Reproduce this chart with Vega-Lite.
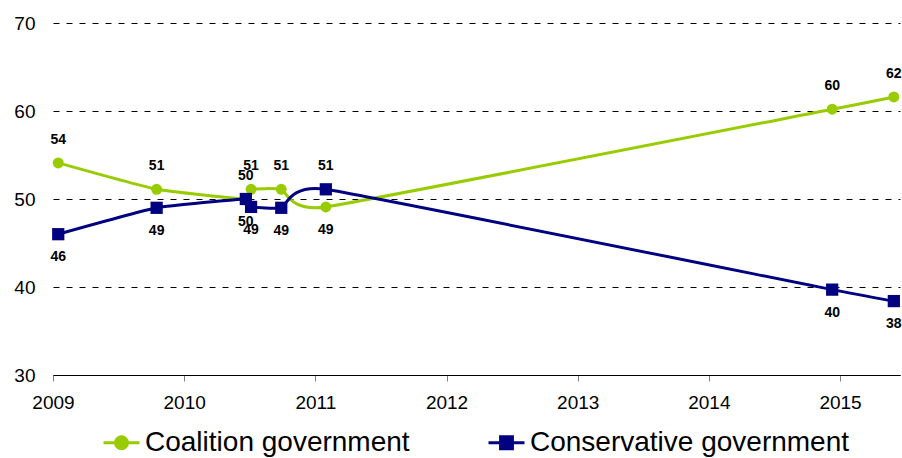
{
  "$schema": "https://vega.github.io/schema/vega-lite/v6.json",
  "width": 847,
  "height": 352,
  "autosize": {"type": "none"},
  "padding": {"left": 53, "top": 23, "right": 2, "bottom": 83},
  "background": "white",
  "config": {
    "view": {"stroke": null},
    "font": "Liberation Sans, Arial, sans-serif"
  },
  "data": {
    "values": [
      {"date": 2009.04, "series": "Coalition government", "value": 54.1},
      {"date": 2009.79, "series": "Coalition government", "value": 51.1},
      {"date": 2010.47, "series": "Coalition government", "value": 50.0},
      {"date": 2010.51, "series": "Coalition government", "value": 51.1},
      {"date": 2010.74, "series": "Coalition government", "value": 51.1},
      {"date": 2011.08, "series": "Coalition government", "value": 49.1},
      {"date": 2014.94, "series": "Coalition government", "value": 60.2},
      {"date": 2015.41, "series": "Coalition government", "value": 61.6},
      {"date": 2009.04, "series": "Conservative government", "value": 46.0},
      {"date": 2009.79, "series": "Conservative government", "value": 49.0},
      {"date": 2010.47, "series": "Conservative government", "value": 50.0},
      {"date": 2010.51, "series": "Conservative government", "value": 49.1},
      {"date": 2010.74, "series": "Conservative government", "value": 49.0},
      {"date": 2011.08, "series": "Conservative government", "value": 51.1},
      {"date": 2014.94, "series": "Conservative government", "value": 39.7},
      {"date": 2015.41, "series": "Conservative government", "value": 38.4}
    ]
  },
  "encoding": {
    "x": {
      "field": "date",
      "type": "quantitative",
      "scale": {"domain": [2009, 2015.457], "nice": false, "zero": false},
      "axis": {
        "title": null,
        "values": [2009, 2010, 2011, 2012, 2013, 2014, 2015],
        "format": "d",
        "grid": false,
        "domainColor": "#000000",
        "domainWidth": 1,
        "tickColor": "#808080",
        "tickSize": 6,
        "labelFontSize": 19,
        "labelColor": "#000000",
        "labelPadding": 12,
        "labelFlush": false
      }
    },
    "y": {
      "field": "value",
      "type": "quantitative",
      "scale": {"domain": [30, 70], "nice": false, "zero": false},
      "axis": {
        "title": null,
        "values": [30, 40, 50, 60, 70],
        "domain": false,
        "ticks": false,
        "grid": true,
        "gridColor": "#000000",
        "gridDash": [6, 7],
        "gridWidth": 1,
        "labelFontSize": 19,
        "labelColor": "#000000",
        "labelPadding": 18
      }
    }
  },
  "layer": [
    {
      "mark": {"type": "line", "interpolate": "cardinal", "tension": 0.6, "strokeWidth": 3},
      "encoding": {
        "color": {
          "field": "series",
          "type": "nominal",
          "scale": {"domain": ["Coalition government", "Conservative government"], "range": ["#99CC00", "#000080"]},
          "legend": {
            "title": null,
            "orient": "none",
            "legendX": 49,
            "legendY": 400,
            "direction": "horizontal",
            "labelFontSize": 28,
            "labelColor": "#000000",
            "labelOffset": 4,
            "columnPadding": 72,
            "symbolSize": 1296,
            "symbolStrokeWidth": 3,
            "labelLimit": 500,
            "encode": {
              "symbols": {
                "update": {
                  "shape": {"signal": "datum.value === 'Coalition government' ? 'M-1,0H1M-0.33,0A0.33,0.33 0 1,1 0.33,0A0.33,0.33 0 1,1 -0.33,0Z' : 'M-1,0H1M-0.33,-0.33H0.33V0.33H-0.33Z'"},
                  "fill": {"signal": "scale('color', datum.value)"},
                  "stroke": {"signal": "scale('color', datum.value)"},
                  "strokeWidth": {"value": 3},
                  "opacity": {"value": 1}
                }
              }
            }
          }
        }
      }
    },
    {
      "transform": [{"filter": "datum.series === 'Coalition government'"}],
      "mark": {"type": "point", "filled": true, "opacity": 1, "shape": "circle", "size": 120},
      "encoding": {"color": {"field": "series", "type": "nominal"}}
    },
    {
      "transform": [{"filter": "datum.series === 'Conservative government'"}],
      "mark": {"type": "point", "filled": true, "opacity": 1, "shape": "square", "size": 150},
      "encoding": {"color": {"field": "series", "type": "nominal"}}
    },
    {
      "transform": [
        {"joinaggregate": [{"op": "max", "field": "value", "as": "mx"}, {"op": "min", "field": "value", "as": "mn"}], "groupby": ["date"]},
        {"calculate": "datum.series === 'Coalition government' ? datum.value >= datum.mx : datum.value > datum.mn", "as": "above"},
        {"filter": "datum.above"}
      ],
      "mark": {"type": "text", "dy": -23, "fontSize": 14, "fontWeight": "bold", "color": "#000000", "baseline": "middle"},
      "encoding": {"text": {"field": "value", "type": "quantitative", "format": ".0f"}}
    },
    {
      "transform": [
        {"joinaggregate": [{"op": "max", "field": "value", "as": "mx"}, {"op": "min", "field": "value", "as": "mn"}], "groupby": ["date"]},
        {"calculate": "datum.series === 'Coalition government' ? datum.value >= datum.mx : datum.value > datum.mn", "as": "above"},
        {"filter": "!datum.above"}
      ],
      "mark": {"type": "text", "dy": 23, "fontSize": 14, "fontWeight": "bold", "color": "#000000", "baseline": "middle"},
      "encoding": {"text": {"field": "value", "type": "quantitative", "format": ".0f"}}
    }
  ]
}
